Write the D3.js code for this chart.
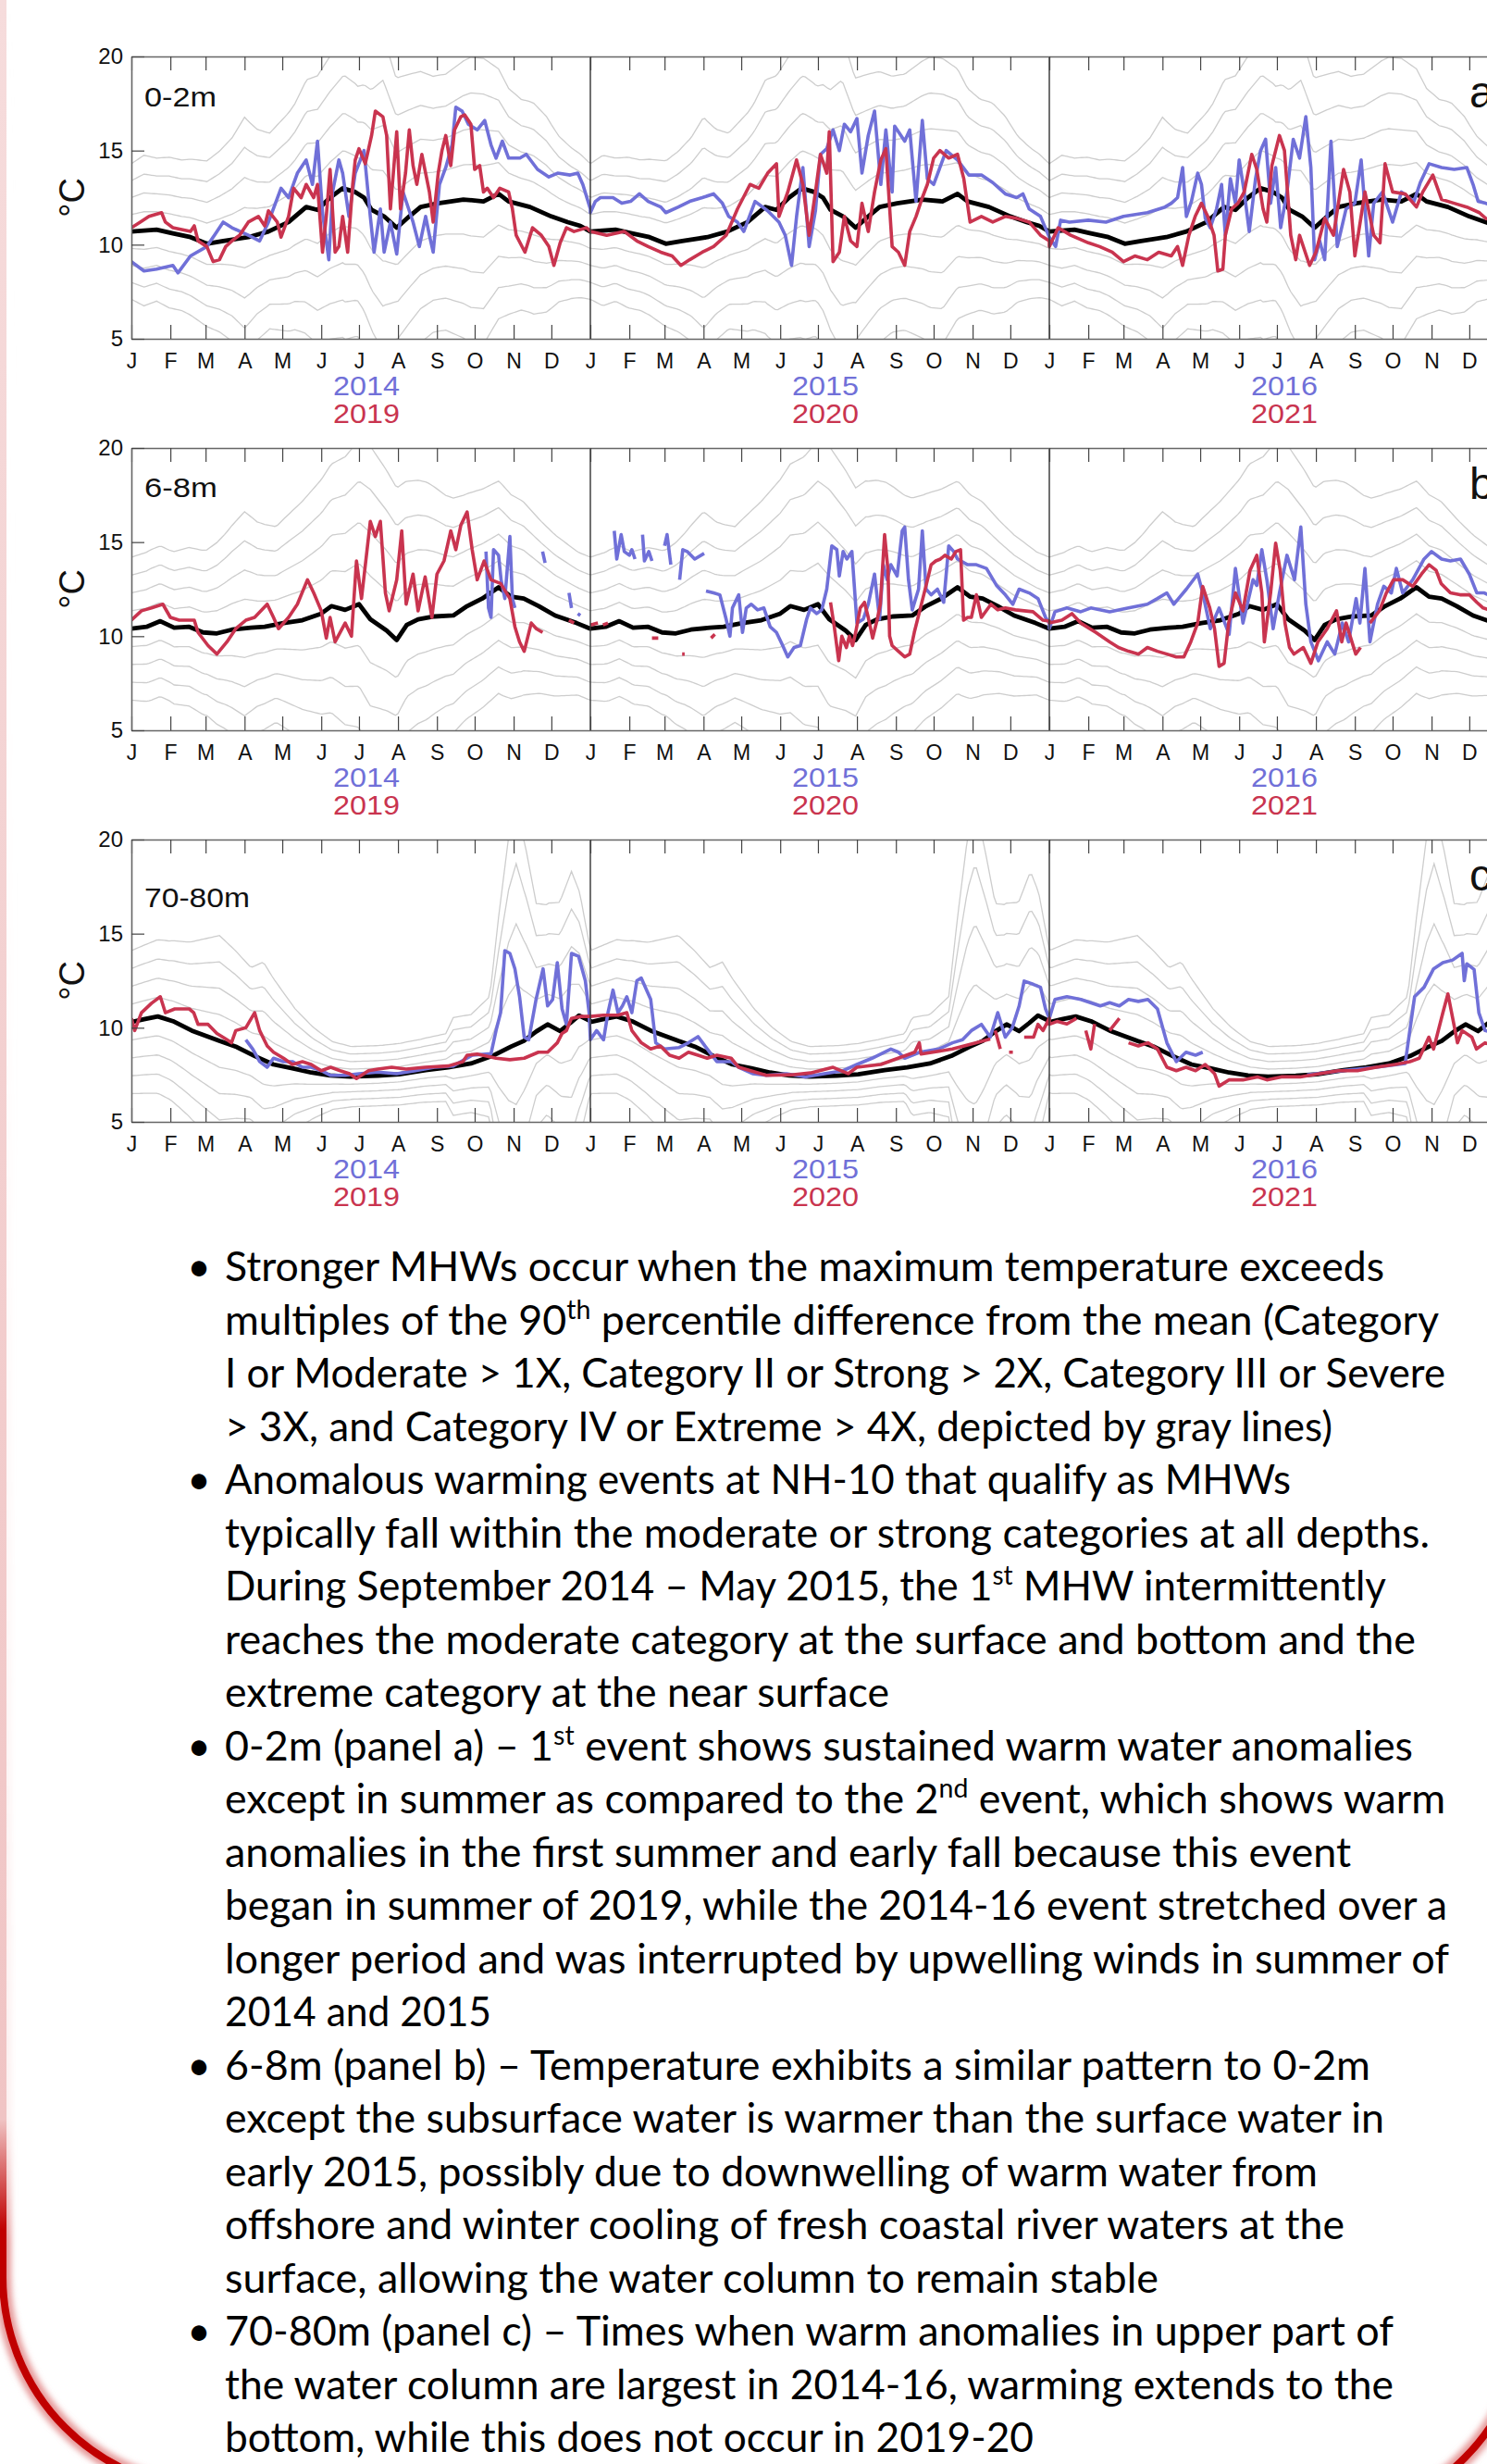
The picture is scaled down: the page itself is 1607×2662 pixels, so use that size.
<!DOCTYPE html>
<html>
<head>
<meta charset="utf-8">
<script src="https://cdn.jsdelivr.net/npm/d3@7"></script>
<style>
  html, body { margin: 0; padding: 0; background: #ffffff; }
  svg { display: block; }
</style>
</head>
<body>
<script>
// ---------- Axis vocabulary ----------
const monthLetters = ["J","F","M","A","M","J","J","A","S","O","N","D"];
const monthStartDays = [0,31,59,90,120,151,181,212,243,273,304,334];
const yTicks = [5,10,15,20];
const blueYears = ["2014","2015","2016"];
const redYears = ["2019","2020","2021"];
const depthLabels = ["0-2m","6-8m","70-80m"];
const panelLetters = ["a","b","c"];
const categoryMultiples = [-4,-3,-2,-1,1,2,3,4];

// ---------- Climatology: [day of year, °C] ----------
const meanA = [[0,10.7],[20,10.8],[33,10.6],[47,10.4],[60,10.05],[73,10.2],[93,10.4],[109,10.7],[125,11.2],[139,12.0],[148,11.85],[158,12.5],[168,13.0],[178,12.8],[185,12.5],[191,11.85],[201,11.5],[211,10.9],[221,11.5],[230,12.0],[244,12.2],[254,12.3],[264,12.4],[280,12.3],[292,12.7],[300,12.3],[317,12.0],[334,11.5],[347,11.2],[357,11.0],[365,10.7]];
const meanB = [[0,10.4],[12,10.5],[23,10.8],[34,10.45],[46,10.5],[57,10.2],[68,10.15],[80,10.35],[95,10.45],[106,10.5],[121,10.7],[136,10.85],[151,11.2],[159,11.6],[170,11.4],[181,11.7],[190,10.9],[203,10.3],[211,9.8],[219,10.6],[228,10.9],[241,11.05],[256,11.1],[267,11.6],[279,12.0],[292,12.6],[302,12.1],[312,12.0],[324,11.6],[337,11.1],[354,10.7],[365,10.4]];
const meanC = [[0,10.3],[10,10.45],[21,10.6],[33,10.35],[48,9.85],[60,9.55],[70,9.3],[83,9.0],[98,8.5],[113,8.05],[128,7.85],[143,7.62],[158,7.47],[174,7.4],[196,7.45],[213,7.53],[234,7.75],[252,7.9],[270,8.1],[287,8.5],[302,9.0],[312,9.3],[322,9.8],[331,10.18],[341,9.82],[349,10.25],[356,10.65],[365,10.35]];

// 90th-percentile difference from the mean: [day of year, °C]
const spreadA = [[0,0.9],[10,1.0],[20,0.95],[30,1.0],[40,1.0],[50,1.05],[60,1.1],[70,1.2],[80,1.35],[90,1.6],[100,1.4],[110,1.3],[120,1.4],[130,1.5],[140,1.7],[150,1.8],[160,1.9],[170,2.0],[180,1.9],[190,2.1],[200,2.4],[210,2.0],[220,1.9],[230,1.8],[240,1.7],[250,1.7],[260,1.8],[270,1.9],[280,1.9],[290,1.7],[300,1.5],[310,1.4],[320,1.4],[330,1.3],[340,1.1],[350,1.0],[365,0.9]];
const spreadB = [[0,0.95],[15,1.0],[30,1.0],[45,1.05],[60,1.1],[75,1.3],[90,1.55],[100,1.4],[115,1.3],[130,1.5],[145,1.7],[160,1.9],[175,2.1],[190,2.3],[205,2.1],[220,1.9],[235,1.8],[250,1.6],[265,1.5],[280,1.45],[295,1.4],[310,1.3],[325,1.15],[340,1.05],[355,0.95],[365,0.95]];
const spreadC = [[0,0.95],[15,1.0],[30,1.05],[45,1.15],[60,1.3],[70,1.4],[80,1.3],[95,1.15],[105,1.3],[115,1.1],[130,0.8],[145,0.6],[160,0.45],[175,0.4],[200,0.4],[230,0.42],[250,0.45],[256,0.65],[270,0.65],[285,0.8],[292,1.8],[300,2.8],[306,3.2],[314,2.5],[322,1.7],[330,1.6],[340,1.7],[350,2.0],[357,1.6],[365,0.95]];

// ---------- Observed temperature: [day of year, °C]; null = no data ----------
// 0-2m
const a2014 = [[0,9.1],[10,8.6],[20,8.7],[33,8.9],[37,8.5],[47,9.4],[60,9.9],[66,10.5],[73,11.2],[80,10.9],[93,10.5],[102,10.2],[109,11.2],[119,13.0],[125,12.5],[132,13.8],[139,14.5],[144,13.2],[148,15.5],[152,11.7],[157,9.2],[160,12.8],[165,14.5],[168,13.8],[173,11.5],[178,13.8],[185,15.0],[190,11.5],[193,9.6],[198,11.9],[201,9.6],[206,11.2],[211,9.5],[216,12.8],[221,11.8],[224,11.2],[229,9.9],[234,11.5],[237,10.5],[240,9.6],[245,13.2],[250,14.1],[255,15.3],[258,17.3],[263,17.1],[268,16.4],[275,16.1],[281,16.6],[286,15.3],[290,14.6],[295,15.5],[300,14.6],[309,14.6],[314,14.8],[323,14.0],[332,13.6],[339,13.8],[349,13.7],[355,13.8],[359,13.2],[365,11.9]];
const a2015 = [[0,11.7],[4,12.3],[8,12.5],[18,12.5],[25,12.2],[32,12.3],[39,12.7],[46,12.3],[56,12.0],[60,11.7],[70,12.0],[79,12.3],[89,12.5],[98,12.7],[105,12.2],[110,11.5],[117,11.2],[122,10.7],[131,12.3],[141,11.8],[150,11.2],[155,10.5],[160,8.9],[164,11.5],[169,14.1],[174,9.9],[179,11.8],[183,14.8],[188,15.1],[193,16.1],[198,15.0],[202,16.4],[207,16.0],[212,16.7],[216,13.8],[221,15.8],[226,17.1],[231,13.2],[235,16.1],[240,12.8],[242,16.3],[250,15.5],[254,16.1],[259,12.3],[264,16.6],[268,13.5],[273,13.2],[283,15.0],[292,14.5],[301,13.7],[311,13.7],[320,13.3],[330,12.7],[339,12.5],[344,12.7],[349,11.9],[358,11.5],[365,10.4]];
const a2016 = [[0,10.4],[5,9.9],[9,11.3],[16,11.2],[31,11.3],[45,11.2],[59,11.5],[78,11.7],[92,12.0],[97,12.2],[102,12.5],[106,14.1],[109,11.5],[113,12.3],[118,13.8],[121,13.2],[124,11.4],[128,10.9],[133,11.9],[137,13.2],[140,10.5],[144,13.5],[148,12.2],[151,14.5],[155,12.8],[159,10.7],[164,13.5],[168,15.0],[172,15.6],[176,12.2],[180,14.1],[184,10.9],[189,12.8],[194,15.6],[199,14.6],[204,16.8],[208,14.1],[211,9.2],[215,10.2],[219,9.2],[224,15.5],[229,9.9],[236,11.9],[243,12.2],[248,14.5],[254,9.4],[258,12.2],[265,12.8],[273,11.2],[280,12.8],[290,12.3],[295,13.3],[302,14.3],[312,14.1],[322,14.0],[332,14.1],[337,13.2],[341,12.3],[347,12.2],[355,12.0],[365,11.6]];
const a2019 = [[0,10.9],[7,11.2],[14,11.5],[24,11.7],[27,11.2],[33,10.9],[47,10.7],[50,11.0],[53,10.2],[60,9.9],[65,9.1],[70,9.2],[75,9.9],[80,10.2],[86,10.5],[93,11.2],[101,11.5],[106,11.0],[109,11.8],[116,11.2],[119,10.4],[125,11.5],[129,13.0],[135,12.5],[139,13.2],[145,12.5],[148,13.2],[152,9.6],[155,11.5],[158,14.0],[162,9.6],[165,9.9],[168,11.5],[172,9.6],[176,13.2],[178,14.5],[181,15.1],[186,14.3],[191,15.8],[194,17.1],[200,16.8],[203,15.8],[206,11.9],[211,16.0],[214,11.9],[218,13.8],[221,16.1],[224,14.2],[227,13.2],[231,14.8],[234,13.8],[237,12.8],[240,11.2],[244,13.8],[247,15.0],[250,15.8],[254,14.2],[257,16.1],[262,16.8],[265,16.9],[270,16.4],[273,14.0],[277,14.2],[280,12.8],[283,13.0],[288,12.5],[293,13.0],[300,12.8],[303,11.9],[306,10.5],[313,9.6],[319,10.9],[326,10.5],[332,9.9],[336,8.9],[341,10.1],[346,10.9],[352,10.7],[362,10.9],[365,10.7]];
const a2020 = [[0,10.7],[13,10.5],[27,10.7],[37,10.2],[46,9.9],[56,9.6],[65,9.4],[72,8.9],[79,9.2],[89,9.6],[98,9.9],[108,10.5],[117,11.9],[127,13.2],[134,13.0],[141,13.8],[148,14.3],[150,11.5],[157,12.8],[164,14.5],[169,13.2],[174,10.5],[179,12.8],[183,14.8],[188,13.8],[190,16.0],[193,9.1],[198,9.6],[202,11.5],[207,10.2],[212,9.9],[216,12.2],[221,10.7],[226,12.8],[231,14.5],[235,15.1],[240,9.9],[245,9.6],[250,8.9],[254,10.7],[259,11.5],[264,12.5],[268,13.2],[273,14.6],[278,15.0],[285,14.6],[292,14.8],[297,13.5],[302,11.2],[311,11.5],[320,11.2],[330,11.5],[339,11.4],[349,11.2],[358,10.5],[365,10.2]];
const a2021 = [[0,9.9],[7,10.9],[17,10.5],[31,10.1],[40,9.9],[50,9.6],[59,9.1],[68,9.4],[78,9.2],[87,9.6],[97,9.4],[102,9.9],[106,8.9],[111,10.5],[116,11.5],[121,12.2],[126,11.5],[131,10.5],[134,8.6],[138,8.7],[140,10.5],[145,11.9],[150,12.2],[155,12.8],[161,14.8],[165,14.0],[170,11.9],[173,11.2],[177,14.2],[183,15.8],[187,15.0],[192,10.5],[196,9.2],[199,10.5],[207,8.9],[212,9.6],[219,11.4],[226,10.5],[234,14.0],[239,12.8],[243,9.4],[251,12.8],[258,10.5],[263,10.1],[267,14.3],[273,12.8],[283,12.7],[292,12.0],[297,12.8],[305,13.7],[312,12.4],[322,12.2],[332,12.0],[342,11.7],[347,11.4],[356,11.2],[365,11.0]];
// 6-8m
const b2014 = [[282,14.5],[284,11.5],[286,11.0],[288,14.6],[292,14.3],[294,13.0],[297,12.0],[301,15.3],[303,12.0],[305,11.5],[306,null],[327,14.5],[329,13.9],[330,null],[348,12.3],[350,11.5],[351,null],[355,11.2],[357,11.1]];
const b2015 = [[19,15.6],[21,14.1],[24.5,15.4],[27,14.5],[31,14.3],[33,14.6],[35.5,14.1],[36,null],[41.5,15.4],[43,14.0],[46.5,14.5],[49,14.0],[50,null],[59,14.8],[61,15.4],[64,13.8],[65,null],[71,13.0],[73.5,14.6],[77,14.5],[83,14.1],[90.5,14.4],[91.2,null],[92,12.4],[98,12.3],[103,12.2],[108,10.9],[111,10.0],[113,11.5],[118,12.2],[121,10.2],[124,11.5],[128,11.7],[133,11.4],[138,11.5],[143,10.5],[148,10.2],[153,9.5],[157,8.9],[162,9.4],[167,9.5],[172,10.9],[175,11.5],[180,11.2],[184,11.4],[188,12.5],[192,14.8],[196,14.6],[198,13.2],[201,14.5],[204,14.1],[208,14.5],[212,10.7],[217,10.9],[221,11.7],[226,13.3],[230,10.9],[233,13.8],[236,13.0],[239,13.8],[244,13.2],[248,15.6],[250,15.8],[253,13.0],[256,11.4],[261,12.5],[264,15.6],[267,12.5],[271,12.2],[276,12.5],[281,11.8],[285,14.8],[289,14.5],[292,14.1],[300,13.8],[307,13.8],[315,13.6],[323,12.7],[330,12.2],[336,11.7],[341,12.5],[349,12.3],[356,12.0],[362,11.0],[365,10.7]];
const b2016 = [[0,10.4],[4.5,11.3],[14,11.5],[25,11.3],[33,11.5],[48,11.3],[63,11.5],[78,11.7],[86,12.0],[93.5,12.3],[99,11.7],[109,12.5],[118,13.3],[122,12.3],[128,10.4],[135,11.5],[143,10.1],[148,13.6],[154,10.7],[162,13.0],[165,12.7],[169,14.6],[173,13.0],[178,10.4],[183,12.3],[189,14.3],[195,13.0],[200,15.8],[204,11.7],[208,9.7],[214,8.7],[221,9.7],[227,9.05],[233,10.7],[238,9.7],[244,12.0],[247,10.7],[251,13.6],[255,9.7],[261,11.7],[266,12.65],[272,12.3],[276,13.6],[281,12.3],[289,13.0],[298,14.1],[304,14.5],[312,14.1],[319,14.0],[327,14.1],[334,13.3],[340,12.3],[346,12.3],[355,12.0],[365,11.5]];
const b2019 = [[0,10.85],[8,11.35],[16,11.5],[25,11.7],[31,11.0],[38,10.85],[50,10.85],[53,10.2],[61,9.5],[68,9.05],[76,9.7],[83,10.4],[91,10.85],[98,11.0],[108,11.7],[113,11.0],[117,10.4],[125,11.0],[132,11.7],[140,13.0],[145,12.3],[151,11.35],[155,9.9],[158,11.0],[162,9.7],[170,10.7],[175,10.0],[179,14.0],[183,12.0],[190,16.1],[194,15.3],[198,16.1],[202,12.3],[205,11.35],[211,13.0],[215,15.6],[218.5,11.7],[224,13.3],[228,11.35],[233.6,13.15],[239,11.0],[243,13.3],[248.6,14.0],[254,15.6],[258,14.6],[262,15.9],[267,16.6],[271,14.6],[275,13.0],[280.5,14.0],[286,13.0],[293.6,12.8],[301,12.0],[305,10.5],[308.7,9.7],[312.4,9.2],[318,10.7],[322,10.4],[327,10.2],[328,null],[348,10.85],[352,10.7]];
const b2020 = [[0,10.6],[6,10.7],[7,null],[10,10.6],[14,10.7],[15,null],[49,9.9],[54,9.9],[55,null],[73,9.05],[75,9.05],[76,null],[96,9.9],[99,10.1],[100,null],[191,11.8],[194,10.5],[197.5,8.7],[200,10.0],[203.6,9.4],[206,10.0],[208.5,9.5],[211,10.2],[214.6,11.5],[218,11.8],[221,11.0],[224.5,9.9],[228,10.85],[230.6,11.7],[234,15.4],[236.7,13.5],[238,10.0],[240,9.5],[245,9.2],[250,8.9],[254,9.05],[257.6,10.2],[262.5,11.5],[267.4,12.8],[271,13.8],[274.7,14.0],[278.4,14.1],[282,14.3],[287,14.1],[290.7,14.5],[294.4,14.6],[296.8,10.85],[300,11.0],[303,11.0],[307,12.2],[311,11.0],[318.6,11.7],[324,11.4],[330,11.5],[338,11.4],[345,11.35],[352,11.3],[360,10.85],[365,10.8]];
const b2021 = [[0,10.7],[10,10.85],[18,11.2],[25,10.7],[37,10.2],[48,9.7],[55,9.4],[63,9.2],[71,9.05],[78,9.4],[86,9.2],[93.5,9.05],[101,8.9],[107,8.9],[112.5,9.7],[118,10.7],[122,12.65],[127.6,11.5],[131.4,10.4],[135,8.4],[139,8.56],[142.6,10.7],[148,12.3],[154,11.35],[159.6,13.5],[165,14.3],[169,12.3],[171,9.7],[176,12.3],[180,14.95],[183.6,13.5],[187.4,10.7],[191,9.4],[194.6,9.05],[202,9.4],[208,8.56],[213.6,9.7],[221,10.4],[228.4,11.35],[232.6,9.7],[236,10.7],[243.7,9.05],[247.5,9.4],[249,null],[255,10.7],[262.5,11.35],[268,12.3],[273.7,13.0],[281,13.0],[289,12.65],[296,13.3],[302,13.8],[307.6,13.5],[311.6,12.8],[319,12.3],[326.6,12.2],[334,12.2],[340,11.8],[345,11.5],[355,11.3],[365,11.0]];
// 70-80m
const c2014 = [[91,9.36],[96.5,8.87],[102,8.2],[108,7.9],[113,8.38],[121,8.2],[128,8.2],[136,7.9],[143,7.9],[151,7.72],[158.5,7.47],[170,7.47],[181,7.56],[196,7.64],[211,7.56],[226,7.72],[241,7.9],[256,7.97],[271,8.54],[286,8.62],[290,9.85],[293.6,10.8],[297,14.1],[301,13.95],[305,13.13],[308.7,11.65],[312.4,9.5],[316,9.36],[321.8,11.5],[327.4,13.13],[331,11.16],[335,11.5],[338.7,13.46],[342.5,11.0],[346,10.18],[350,13.95],[355.6,13.8],[361,12.5],[364,10.8],[365,9.4]];
const c2015 = [[0,9.36],[5,9.85],[10.5,9.36],[14,10.8],[18,12.0],[22,10.8],[25.5,11.16],[29,11.65],[33,10.8],[37,12.5],[40.5,12.64],[48,11.5],[52,9.2],[59,8.87],[70.6,8.95],[78,9.2],[85.6,9.53],[93,8.87],[100.6,8.2],[112,8.2],[118,7.9],[129,7.56],[140,7.47],[156,7.56],[171,7.39],[186,7.56],[201,7.72],[212,8.05],[224,8.38],[239,8.87],[245,8.7],[250,8.38],[262,8.7],[277,8.87],[288,9.2],[296,9.36],[303,9.85],[311,10.18],[318,9.5],[324,10.8],[330,9.5],[335.5,10.0],[341,11.16],[345,12.48],[352.5,12.3],[358,12.15],[362,11.0],[365,10.5]];
const c2016 = [[0,10.5],[4.5,11.5],[14,11.65],[25,11.5],[40.5,11.16],[48,11.33],[55.7,11.16],[63,11.5],[70.8,11.4],[78.4,11.5],[86,11.0],[93.5,9.2],[101,8.2],[108.7,8.7],[116.3,8.54],[122,8.7],[123,null],[205,7.5],[230,7.7],[260,7.9],[283,8.1],[290.5,11.65],[298,12.15],[305.6,13.13],[313,13.46],[320.8,13.6],[328.3,13.95],[330,12.5],[332,13.4],[337.8,13.1],[341.6,10.8],[346.5,9.85],[355,9.7],[365,9.6]];
const c2019 = [[0,10.5],[2.6,9.85],[8,10.8],[16,11.3],[23,11.65],[27,10.8],[34.5,11.0],[46,11.0],[49.6,10.8],[53,10.18],[61,10.18],[68,9.7],[76,9.36],[79.6,9.2],[83,9.85],[91,10.0],[98,10.8],[102,9.85],[108,9.03],[113,8.7],[121,8.38],[128,8.05],[136,8.2],[143,8.05],[151,7.72],[158.5,7.9],[166,7.72],[173.5,7.56],[179,7.3],[188.5,7.72],[196,7.8],[207,7.9],[218.5,7.8],[233.6,7.9],[252,7.97],[263.6,8.2],[267,8.54],[275,8.6],[290,8.38],[301,8.3],[312.4,8.38],[323.7,8.7],[331,8.7],[338.7,9.2],[342.5,9.7],[346,9.85],[350,10.5],[357.5,10.6],[365,10.6]];
const c2020 = [[0,10.6],[10.5,10.67],[22,10.67],[29,10.8],[33,9.85],[40.5,9.2],[48,8.87],[55.6,9.03],[63,8.54],[70.6,8.38],[78,8.7],[85.6,8.54],[93,8.38],[100.6,8.54],[112,8.38],[118,7.9],[140,7.47],[160,7.5],[175,7.6],[193,7.9],[205,7.56],[212,7.9],[231,8.05],[258,8.7],[261.6,9.2],[263,8.6],[288,8.87],[307,9.2],[318,9.4],[320,null],[322,9.85],[326,8.87],[328,null],[333,8.7],[336,8.7],[338,null],[345,9.5],[352.5,9.5],[356,10.18],[360,9.85],[365,10.5]];
const c2021 = [[0,10.18],[6.4,10.34],[14,10.2],[21.6,10.5],[26,null],[29,9.85],[33,8.87],[36,10.2],[37,null],[48,9.85],[55.7,10.5],[58,null],[63,9.2],[70.8,9.03],[78.4,9.2],[86,8.87],[93.5,7.9],[101,7.72],[108.7,7.9],[116.3,7.72],[124,8.05],[131.4,7.56],[135,6.9],[142.8,7.23],[154,7.23],[165.5,7.39],[173,7.23],[184.4,7.39],[199.5,7.39],[214.7,7.56],[229.8,7.72],[245,7.72],[260,7.9],[275,8.05],[286.7,8.2],[294.2,8.38],[301.8,9.5],[305.6,8.87],[313,10.8],[317,11.8],[320.8,10.5],[324.6,9.2],[328.3,9.85],[336,9.5],[339.7,8.87],[346.5,9.2],[355,9.0],[365,9.0]];

// ---------- Notes ----------
const noteLines = [
  "Stronger MHWs occur when the maximum temperature exceeds",
  "multiples of the 90<sup>th</sup> percentile difference from the mean (Category",
  "I or Moderate > 1X, Category II or Strong > 2X, Category III or Severe",
  "> 3X, and Category IV or Extreme > 4X, depicted by gray lines)",
  "Anomalous warming events at NH-10 that qualify as MHWs",
  "typically fall within the moderate or strong categories at all depths.",
  "During September 2014 \u2013 May 2015, the 1<sup>st</sup> MHW intermittently",
  "reaches the moderate category at the surface and bottom and the",
  "extreme category at the near surface",
  "0-2m (panel a) \u2013 1<sup>st</sup> event shows sustained warm water anomalies",
  "except in summer as compared to the 2<sup>nd</sup> event, which shows warm",
  "anomalies in the first summer and early fall because this event",
  "began in summer of 2019, while the 2014-16 event stretched over a",
  "longer period and was interrupted by upwelling winds in summer of",
  "2014 and 2015",
  "6-8m (panel b) \u2013 Temperature exhibits a similar pattern to 0-2m",
  "except the subsurface water is warmer than the surface water in",
  "early 2015, possibly due to downwelling of warm water from",
  "offshore and winter cooling of fresh coastal river waters at the",
  "surface, allowing the water column to remain stable",
  "70-80m (panel c) \u2013 Times when warm anomalies in upper part of",
  "the water column are largest in 2014-16, warming extends to the",
  "bottom, while this does not occur in 2019-20"
];
const bulletLineIndex = [0, 4, 9, 15, 20];

// ---------- Layout ----------
const W = 1607, H = 2662;
const plotLeft = 142, yearWidth = 496, plotHeight = 305;
const panelTops = [61, 484, 907];
const depthLabelOffset = [54, 53, 73];
const depthLabelWidths = [78, 79, 114];
const noteLineWidths = [1253,1312,1319,1197,1152,1302,1255,1287,718,1284,1319,1217,1321,1323,288,1238,1253,1181,1210,1009,1263,1263,874];
const BLUE = "#7070d8", RED = "#c9344f", GRAY = "#cdcdcd";
const axisFont = "'Liberation Sans', Arial, Helvetica, sans-serif";

const panels = [
  { mean: meanA, spread: spreadA, blue: [a2014, a2015, a2016], red: [a2019, a2020, a2021] },
  { mean: meanB, spread: spreadB, blue: [b2014, b2015, b2016], red: [b2019, b2020, b2021] },
  { mean: meanC, spread: spreadC, blue: [c2014, c2015, c2016], red: [c2019, c2020, c2021] }
];

const svg = d3.select("body").append("svg")
  .attr("width", W).attr("height", H)
  .attr("viewBox", `0 0 ${W} ${H}`);
svg.append("rect").attr("width", W).attr("height", H).attr("fill", "#fff");

const defs = svg.append("defs");

// Shared time axis: three consecutive years, day offsets
const x = d3.scaleLinear().domain([0, 3 * 365]).range([plotLeft, plotLeft + 3 * yearWidth]);
const monthTicks = [0, 1, 2].flatMap(yr => monthStartDays.map(m => yr * 365 + m)).concat([3 * 365]);

// Place three yearly series end to end, breaking the line where data stop
function joinYears(list) {
  const out = [];
  list.forEach((s, i) => {
    const off = i * 365;
    if (s[0][0] > 0) out.push([off + s[0][0], null]);
    s.forEach(([d, v]) => out.push([off + d, v]));
    if (s[s.length - 1][0] < 365) out.push([off + s[s.length - 1][0], null]);
  });
  return out;
}

// Piecewise-linear lookup through a list of [day, value] pairs
function lookup(pairs) {
  return d3.scaleLinear().domain(pairs.map(p => p[0])).range(pairs.map(p => p[1])).clamp(true);
}

panels.forEach((p, pi) => {
  const top = panelTops[pi];
  const y = d3.scaleLinear().domain([5, 20]).range([top + plotHeight, top]);
  const g = svg.append("g");

  const clipId = "clip" + pi;
  defs.append("clipPath").attr("id", clipId)
    .append("rect").attr("x", plotLeft).attr("y", top)
    .attr("width", 3 * yearWidth).attr("height", plotHeight);

  const line = d3.line()
    .defined(d => d[1] !== null)
    .x(d => x(d[0])).y(d => y(d[1]));

  const plot = g.append("g").attr("clip-path", `url(#${clipId})`);

  // Category threshold lines: mean ± k × (90th percentile − mean)
  const meanAt = lookup(p.mean), spreadAt = lookup(p.spread);
  const dayOfYear = d => (d > 0 && d % 365 === 0) ? 365 : d % 365;
  const days = d3.range(0, 3 * 365 + 1, 2);
  categoryMultiples.forEach(k => {
    const pts = days.map(d => [d, meanAt(dayOfYear(d)) + k * spreadAt(dayOfYear(d))]);
    plot.append("path").attr("d", line(pts))
      .attr("fill", "none").attr("stroke", GRAY).attr("stroke-width", 1.3);
  });

  // Climatological mean
  plot.append("path").attr("d", line(joinYears([p.mean, p.mean, p.mean])))
    .attr("fill", "none").attr("stroke", "#000").attr("stroke-width", 4.8)
    .attr("stroke-linejoin", "round");

  // Observations: first event (blue) and second event (red)
  plot.append("path").attr("d", line(joinYears(p.blue)))
    .attr("fill", "none").attr("stroke", BLUE).attr("stroke-width", 3.6)
    .attr("stroke-linejoin", "round");
  plot.append("path").attr("d", line(joinYears(p.red)))
    .attr("fill", "none").attr("stroke", RED).attr("stroke-width", 3.6)
    .attr("stroke-linejoin", "round");

  // Year dividers
  [365, 730].forEach(d => {
    g.append("line").attr("x1", x(d)).attr("x2", x(d))
      .attr("y1", top).attr("y2", top + plotHeight)
      .attr("stroke", "#333").attr("stroke-width", 1.4);
  });

  // Axes
  const bottomAxis = d3.axisBottom(x).tickValues(monthTicks)
    .tickSize(-15).tickSizeOuter(0).tickPadding(16)
    .tickFormat((d, i) => monthLetters[i % 12]);
  const topAxis = d3.axisTop(x).tickValues(monthTicks)
    .tickSize(-15).tickSizeOuter(0).tickFormat("");
  const leftAxis = d3.axisLeft(y).tickValues(yTicks)
    .tickSize(-14).tickSizeOuter(0).tickPadding(9);

  const gb = g.append("g").attr("transform", `translate(0,${top + plotHeight})`).call(bottomAxis);
  const gt = g.append("g").attr("transform", `translate(0,${top})`).call(topAxis);
  const gl = g.append("g").attr("transform", `translate(${plotLeft},0)`).call(leftAxis);
  [gb, gt, gl].forEach(a => {
    a.select(".domain").attr("stroke", "#666").attr("stroke-width", 1.6);
    a.selectAll(".tick line").attr("stroke", "#444").attr("stroke-width", 1.2);
    a.selectAll(".tick text").attr("font-family", axisFont).attr("fill", "#111");
  });
  gb.selectAll(".tick text").attr("font-size", 23);
  gl.selectAll(".tick text").attr("font-size", 24);

  // Unit label
  g.append("text")
    .attr("transform", `translate(78,${top + plotHeight / 2}) rotate(-90)`)
    .attr("text-anchor", "middle").attr("dominant-baseline", "central")
    .attr("font-family", axisFont).attr("font-size", 38).attr("fill", "#111")
    .text("\u00B0C");

  // Depth and panel letter
  g.append("text").attr("x", 156).attr("y", top + depthLabelOffset[pi])
    .attr("font-family", axisFont).attr("font-size", 30).attr("fill", "#111")
    .attr("textLength", depthLabelWidths[pi]).attr("lengthAdjust", "spacingAndGlyphs")
    .text(depthLabels[pi]);
  g.append("text").attr("x", 1588).attr("y", top + 55)
    .attr("font-family", axisFont).attr("font-size", 48).attr("fill", "#111")
    .text(panelLetters[pi]);

  // Year labels under each year
  [0, 1, 2].forEach(i => {
    const cx = x(i * 365 + 187);
    g.append("text").attr("x", cx - 36).attr("y", top + plotHeight + 61)
      .attr("font-family", axisFont).attr("font-size", 29)
      .attr("textLength", 72).attr("lengthAdjust", "spacingAndGlyphs")
      .attr("fill", BLUE).text(blueYears[i]);
    g.append("text").attr("x", cx - 36).attr("y", top + plotHeight + 91)
      .attr("font-family", axisFont).attr("font-size", 29)
      .attr("textLength", 72).attr("lengthAdjust", "spacingAndGlyphs")
      .attr("fill", RED).text(redYears[i]);
  });
});

// ---------- Notes below the chart ----------
const noteFont = "Lato, 'Open Sans', sans-serif";
const noteTop = 1384, noteStep = 57.5, noteLeft = 243;
const notes = svg.append("g").attr("font-family", noteFont).attr("fill", "#000");
noteLines.forEach((ln, i) => {
  const yb = noteTop + i * noteStep;
  const t = notes.append("text").attr("x", noteLeft).attr("y", yb)
    .attr("font-size", 44)
    .attr("textLength", noteLineWidths[i]).attr("lengthAdjust", "spacingAndGlyphs");
  ln.split(/(<sup>.*?<\/sup>)/).filter(s => s.length).forEach(seg => {
    if (seg.startsWith("<sup>")) {
      t.append("tspan").attr("font-size", 28).attr("baseline-shift", "super")
        .text(seg.replace(/<\/?sup>/g, ""));
    } else {
      t.append("tspan").text(seg);
    }
  });
  if (bulletLineIndex.includes(i)) {
    notes.append("text").attr("x", 215).attr("y", yb)
      .attr("text-anchor", "middle").attr("font-size", 44).text("\u2022");
  }
});

// ---------- Slide frame ----------
const grad = defs.append("linearGradient").attr("id", "frameGrad")
  .attr("gradientUnits", "userSpaceOnUse").attr("x1", 0).attr("y1", 0).attr("x2", 0).attr("y2", H);
[[0, "#f6dcdc"], [0.86, "#f0c4c4"], [0.905, "#c00000"], [1, "#c00000"]].forEach(([o, c]) =>
  grad.append("stop").attr("offset", o).attr("stop-color", c));
const glowGrad = defs.append("linearGradient").attr("id", "glowGrad")
  .attr("gradientUnits", "userSpaceOnUse").attr("x1", 0).attr("y1", 0).attr("x2", 0).attr("y2", H);
[[0, "#ffffff", 0], [0.86, "#f4c8c8", 0.3], [0.91, "#e08080", 0.8], [1, "#e08080", 0.8]].forEach(([o, c, a]) =>
  glowGrad.append("stop").attr("offset", o).attr("stop-color", c).attr("stop-opacity", a));
defs.append("filter").attr("id", "soft").attr("x", "-10%").attr("y", "-10%").attr("width", "120%").attr("height", "120%")
  .append("feGaussianBlur").attr("stdDeviation", 3);

const framePaths = [
  "M3,-20 V2460 A230,230 0 0 0 233,2690 H900",
  "M900,2723 H1420 A230,230 0 0 0 1650,2493 V2000"
];
framePaths.forEach(dp => {
  svg.append("path").attr("d", dp).attr("fill", "none")
    .attr("stroke", "url(#glowGrad)").attr("stroke-width", 18).attr("filter", "url(#soft)");
  svg.append("path").attr("d", dp).attr("fill", "none")
    .attr("stroke", "url(#frameGrad)").attr("stroke-width", 8);
});
</script>
</body>
</html>
